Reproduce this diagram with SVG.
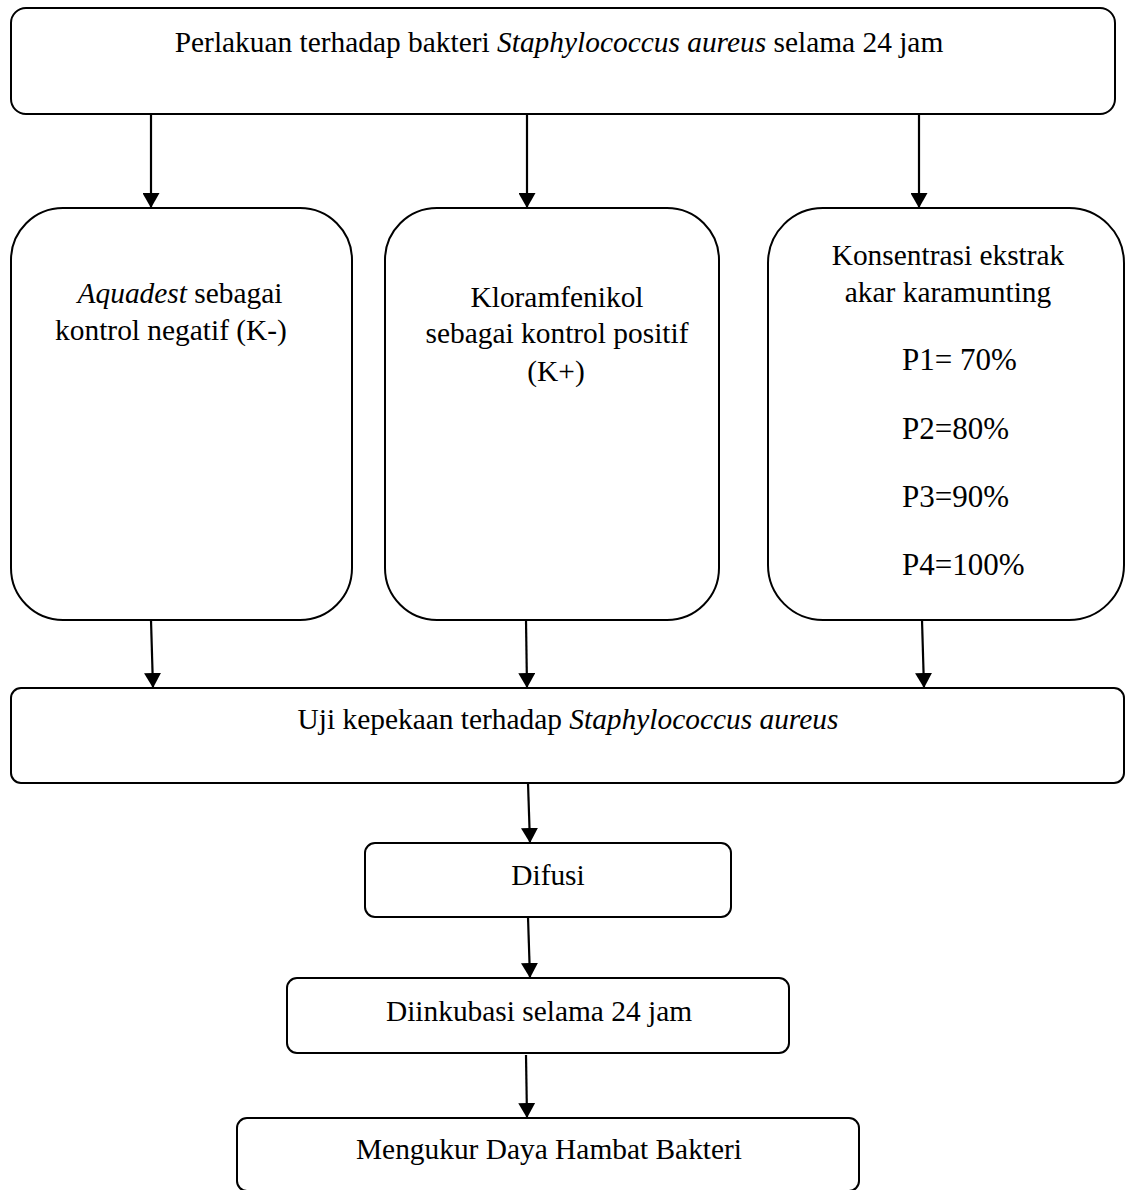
<svg xmlns="http://www.w3.org/2000/svg" width="1126" height="1190" viewBox="0 0 1126 1190">
<style>
.box{fill:#fff;stroke:#000;stroke-width:2}
.t{font-family:"Liberation Serif","Times New Roman",serif;font-size:29.4px;fill:#000;text-anchor:middle}
.p{font-family:"Liberation Serif","Times New Roman",serif;font-size:31px;fill:#000;text-anchor:start}
.i{font-style:italic}
.c{stroke:#000;stroke-width:2.2;fill:none;marker-end:url(#ah)}
</style>
<defs>
<marker id="ah" markerUnits="userSpaceOnUse" markerWidth="16" markerHeight="17" refX="15" refY="8.5" orient="auto" viewBox="0 0 16 17">
<path d="M0,0 L15,8.5 L0,17 z" fill="#000"/>
</marker>
</defs>
<rect width="1126" height="1190" fill="#fff"/>
<g id="n-top"><rect class="box" x="11" y="8" width="1104" height="106" rx="15"/>
<text class="t" x="559" y="52">Perlakuan terhadap bakteri <tspan class="i">Staphylococcus aureus</tspan> selama 24 jam</text></g>
<g id="n-kneg"><rect class="box" x="11" y="208" width="341" height="412" rx="52"/>
<text class="t" x="180" y="303"><tspan class="i">Aquadest</tspan> sebagai</text>
<text class="t" x="171" y="340">kontrol negatif (K-)</text></g>
<g id="n-kpos"><rect class="box" x="385" y="208" width="334" height="412" rx="52"/>
<text class="t" x="557" y="307">Kloramfenikol</text>
<text class="t" x="557" y="343">sebagai kontrol positif</text>
<text class="t" x="556" y="381">(K+)</text></g>
<g id="n-konsentrasi"><rect class="box" x="768" y="208" width="356" height="412" rx="55"/>
<text class="t" x="948" y="265">Konsentrasi ekstrak</text>
<text class="t" x="948" y="302">akar karamunting</text>
<text class="p" x="902" y="370">P1= 70%</text>
<text class="p" x="902" y="439">P2=80%</text>
<text class="p" x="902" y="507">P3=90%</text>
<text class="p" x="902" y="575">P4=100%</text></g>
<g id="n-uji"><rect class="box" x="11" y="688" width="1113" height="95" rx="10"/>
<text class="t" x="568" y="729">Uji kepekaan terhadap <tspan class="i">Staphylococcus aureus</tspan></text></g>
<g id="n-difusi"><rect class="box" x="365" y="843" width="366" height="74" rx="10"/>
<text class="t" x="548" y="885">Difusi</text></g>
<g id="n-inkubasi"><rect class="box" x="287" y="978" width="502" height="75" rx="10"/>
<text class="t" x="539" y="1021">Diinkubasi selama 24 jam</text></g>
<g id="n-ukur"><rect class="box" x="237" y="1118" width="622" height="73" rx="10"/>
<text class="t" x="549" y="1159">Mengukur Daya Hambat Bakteri</text></g>
<g id="connectors">
<path class="c" d="M151,114 L151,208"/>
<path class="c" d="M527,114 L527,208"/>
<path class="c" d="M919,114 L919,208"/>
<path class="c" d="M151,620 L153,688"/>
<path class="c" d="M526,620 L527,688"/>
<path class="c" d="M922,620 L924,688"/>
<path class="c" d="M528,783 L530,843"/>
<path class="c" d="M528,917 L530,978"/>
<path class="c" d="M526,1055 L527,1118"/>
</g>
</svg>
